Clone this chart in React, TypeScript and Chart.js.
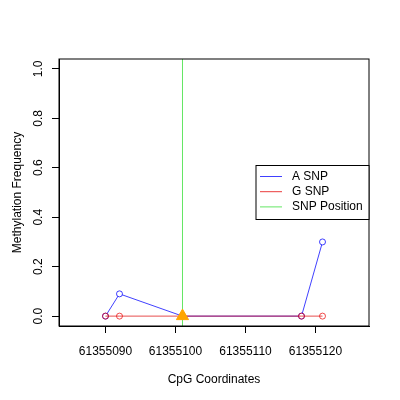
import { useEffect, useRef } from "react";
import { Chart, registerables } from "chart.js";

Chart.register(...registerables);

const positions = [61355090, 61355092, 61355101, 61355118, 61355121];
const aSnp = [0, 0.09, 0, 0, 0.3];
const gSnp = [0, 0, 0, 0, 0];
const snpPosition = 61355101;
const xTicks = [61355090, 61355100, 61355110, 61355120];
const yTicks = [0, 0.2, 0.4, 0.6, 0.8, 1.0];
const xRange = [61355083.36, 61355127.64];
const yRange = [-0.04, 1.04];

const FONT = "'Liberation Sans', Arial, sans-serif";

const frameAndLegend = {
  id: "frameAndLegend",
  afterDraw(chart: any) {
    const { ctx, chartArea } = chart;
    ctx.save();
    // box round the plot, like R's box()
    ctx.strokeStyle = "#000";
    ctx.lineWidth = 1;
    ctx.strokeRect(chartArea.left, chartArea.top, chartArea.right - chartArea.left, chartArea.bottom - chartArea.top);

    const items = chart.data.datasets.filter((d: any) => d.label);
    const w = 113;
    const h = 54;
    const x = chartArea.right - w;
    const y = (chartArea.top + chartArea.bottom) / 2 - h / 2;
    ctx.fillStyle = "#fff";
    ctx.fillRect(x, y, w, h);
    ctx.strokeRect(x, y, w, h);
    ctx.font = "12px " + FONT;
    ctx.textBaseline = "middle";
    items.forEach((d: any, i: number) => {
      const ry = y + 11 + i * 15.2;
      ctx.strokeStyle = d.legendColor || d.borderColor;
      ctx.beginPath();
      ctx.moveTo(x + 4, ry);
      ctx.lineTo(x + 26, ry);
      ctx.stroke();
      ctx.fillStyle = "#000";
      ctx.fillText(d.label, x + 36, ry);
    });
    ctx.restore();
  },
};

function MethylationChart() {
  const canvasRef = useRef<HTMLCanvasElement>(null);

  useEffect(() => {
    const canvas = canvasRef.current;
    if (!canvas) return;
    const chart = new Chart(canvas, {
      type: "line",
      data: {
        datasets: [
          {
            label: "A SNP",
            order: 3,
            data: positions.map((p, i) => ({ x: p, y: aSnp[i] })),
            borderColor: "rgba(0,0,255,0.75)",
            borderWidth: 1,
            pointStyle: "circle",
            pointRadius: 3,
            pointBorderWidth: 1,
            pointBorderColor: "rgba(0,0,255,0.75)",
            pointBackgroundColor: "#fff",
          },
          {
            label: "G SNP",
            order: 2,
            legendColor: "rgb(235,60,60)",
            data: positions.map((p, i) => ({ x: p, y: gSnp[i] })),
            borderColor: "rgba(220,0,0,0.7)",
            borderWidth: 1,
            pointStyle: "circle",
            pointRadius: 3,
            pointBorderWidth: 1,
            pointBorderColor: "rgba(235,0,0,0.7)",
            pointBackgroundColor: "rgba(255,255,255,0)",
          },
          {
            label: "SNP Position",
            order: 1,
            data: [
              { x: snpPosition, y: yRange[0] },
              { x: snpPosition, y: yRange[1] },
            ],
            borderColor: "rgb(100,230,100)",
            borderWidth: 1,
            pointRadius: 0,
          },
          {
            label: "",
            order: 0,
            type: "scatter",
            data: [{ x: snpPosition, y: 0 }],
            showLine: false,
            pointStyle: "triangle",
            pointRadius: 7,
            pointBorderWidth: 1,
            pointBorderColor: "rgb(255,165,0)",
            pointBackgroundColor: "rgb(255,165,0)",
            backgroundColor: "rgb(255,165,0)",
            borderColor: "rgb(255,165,0)",
          },
        ] as any,
      },
      options: {
        animation: false,
        responsive: false,
        layout: { padding: { left: 0, right: 31, top: 59, bottom: 0 } },
        plugins: { legend: { display: false }, tooltip: { enabled: false } },
        scales: {
          x: {
            type: "linear",
            min: xRange[0],
            max: xRange[1],
            afterBuildTicks: (scale: any) => {
              scale.ticks = xTicks.map((v) => ({ value: v }));
            },
            afterFit: (scale: any) => {
              scale.height = 74;
            },
            grid: { drawOnChartArea: false, drawTicks: true, tickLength: 7, color: "#000" },
            border: { color: "#000" },
            ticks: {
              color: "#000",
              font: { family: FONT, size: 12 },
              padding: 11,
              maxRotation: 0,
              callback: (v: any) => String(v),
            },
            title: {
              display: true,
              text: "CpG Coordinates",
              color: "#000",
              font: { family: FONT, size: 12 },
              padding: { top: 0, bottom: 13 },
            },
          },
          y: {
            type: "linear",
            min: yRange[0],
            max: yRange[1],
            afterBuildTicks: (scale: any) => {
              scale.ticks = yTicks.map((v) => ({ value: v }));
            },
            afterFit: (scale: any) => {
              scale.width = 59;
            },
            grid: { drawOnChartArea: false, drawTicks: true, tickLength: 7, color: "#000" },
            border: { color: "#000" },
            ticks: {
              color: "#000",
              font: { family: FONT, size: 12 },
              padding: 5,
              minRotation: 90,
              maxRotation: 90,
              crossAlign: "center",
              callback: (v: any) => Number(v).toFixed(1),
            },
            title: {
              display: true,
              text: "Methylation Frequency",
              color: "#000",
              font: { family: FONT, size: 12 },
              padding: { top: 10, bottom: 0 },
            },
          },
        },
      },
      plugins: [frameAndLegend],
    });
    return () => chart.destroy();
  }, []);

  return <canvas ref={canvasRef} width={400} height={400}></canvas>;
}

export default function App() {
  return (
    <div style={{ position: "fixed", left: 0, top: 0, width: 400, height: 400, background: "#fff" }}>
      <MethylationChart />
    </div>
  );
}
